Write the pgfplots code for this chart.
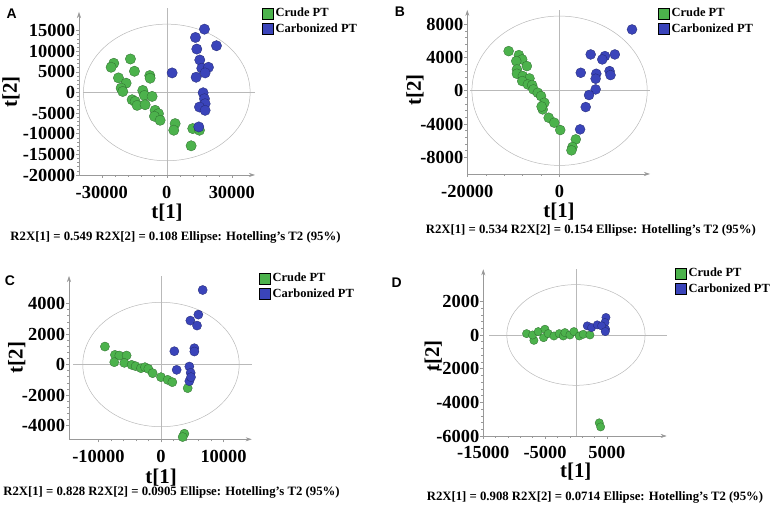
\documentclass[border=0pt]{standalone}
\usepackage{pgfplots}
\pgfplotsset{compat=1.18}
\usepackage{fontspec}
\setmainfont{Liberation Serif}
\newfontfamily\lsans{Liberation Sans}
\usetikzlibrary{arrows.meta}
\definecolor{gr}{RGB}{76,178,76}
\definecolor{bl}{RGB}{58,68,186}
\tikzset{refl/.style={draw=gray!55, line width=0.5bp}}
\pgfplotsset{
  pca/.style={
    scale only axis,
    axis lines=left,
    axis line style={draw=gray!80, line width=0.6bp, -{Stealth[length=6bp,width=4bp]}},
    tick style={draw=gray!80, line width=0.5bp},
    tick align=outside,
    major tick length=3bp,
    minor tick length=2bp,
    minor x tick num=4, minor y tick num=4,
    scaled ticks=false,
    /pgf/number format/1000 sep={},
    /pgf/number format/assume math mode=true,
    tick label style={font=\fontsize{18.5}{18.5}\selectfont\bfseries},
    yticklabel style={xshift=2.5bp},
    xticklabel style={yshift=-4.5bp},
    label style={font=\fontsize{21}{21}\selectfont\bfseries},
    xlabel={t[1]}, ylabel={t[2]},
    clip=false,
    legend cell align=left,
    legend style={draw=none, fill=none, font=\fontsize{12.5}{13}\selectfont\bfseries, anchor=north west, inner sep=0pt, row sep=1.5bp},
    legend image code/.code={\fill[##1] (0bp,-5.5bp) rectangle (11bp,5.5bp);},
  },
  gm/.style={only marks, mark=*, forget plot, mark options={fill=gr, draw=gr!60!black, line width=0.3bp}},
  bm/.style={only marks, mark=*, forget plot, mark options={fill=bl, draw=bl!60!black, line width=0.3bp}},
}
\begin{document}
\begin{tikzpicture}[x=1bp,y=1bp]
\useasboundingbox (0,0) rectangle (773,512);
% ---------------- A ----------------
\begin{axis}[pca, at={(79bp,337bp)}, anchor=south west, width=176bp, height=163bp,
  xmin=-40500, xmax=40700, ymin=-20000, ymax=19500,
  xtick={-30000,0,30000}, ytick={-20000,-15000,-10000,-5000,0,5000,10000,15000},
  xlabel style={at={(axis description cs:0.5,-0.232)}, anchor=center},
  ylabel style={at={(axis description cs:-0.386,0.509)}, anchor=center},
  legend style={at={(axis description cs:1.04,1.037)}}]
\draw[refl] (axis cs:0,-20000) -- (axis cs:0,20400);
\draw[refl] (axis cs:-38500,0) -- (axis cs:40700,0);
\draw[refl] (axis cs:0,0) ellipse [x radius=38450, y radius=16550];
\addlegendimage{fill=gr}\addlegendentry{Crude PT}
\addlegendimage{fill=bl}\addlegendentry{Carbonized PT}
\addplot[gm, mark size=5.2bp] table {
x y
-24454 7066
-25685 6103
-16764 8110
-14919 5139
-22301 3533
-18764 2248
-21071 1044
-20302 241
-7844 4095
-7690 3453
-11074 482
-10305 -723
-6767 -964
-15995 -1767
-14611 -2168
-13688 -3132
-9997 -2971
-5383 -4336
-3845 -5139
-5691 -5782
-3076 -6745
3845 -7548
3230 -9154
11996 -8753
15072 -9154
11227 -12928
};
\addplot[bm, mark size=5.2bp] table {
x y
17379 15337
13227 13330
22916 11322
13842 10519
15227 7869
2461 4738
16149 5862
19225 6103
17687 4738
13534 3694
16764 -80
17379 -1526
17687 -2730
15072 -3533
17687 -4336
14765 -8351
};
\end{axis}
% ---------------- B ----------------
\begin{axis}[pca, at={(467.3bp,338bp)}, anchor=south west, width=182.7bp, height=164bp,
  xmin=-20000, xmax=19600, ymin=-10000, ymax=9700,
  xtick={-20000,0}, ytick={-8000,-4000,0,4000,8000},
  xlabel style={at={(axis description cs:0.502,-0.227)}, anchor=center},
  ylabel style={at={(axis description cs:-0.286,0.512)}, anchor=center},
  legend style={at={(axis description cs:1.044,1.024)}}]
\draw[refl] (axis cs:0,-10000) -- (axis cs:0,9700);
\draw[refl] (axis cs:-19400,0) -- (axis cs:19600,0);
\draw[refl] (axis cs:0,0) ellipse [x radius=19000, y radius=8970];
\addlegendimage{fill=gr}\addlegendentry{Crude PT}
\addlegendimage{fill=bl}\addlegendentry{Carbonized PT}
\addplot[gm, mark size=5bp] table {
x y
-11042 4760
-8819 4280
-8102 3760
-9393 3560
-9249 2560
-7098 2960
-9249 2040
-7959 1760
-6525 1480
-8102 1160
-6883 760
-5951 680
-5664 160
-4732 -240
-4015 -640
-3298 -1440
-3657 -2240
-3900 -1900
-2366 -3240
-1147 -3840
143 -4720
3513 -5840
2796 -6760
2581 -7160
};
\addplot[bm, mark size=5bp] table {
x y
15702 7360
6740 4360
9823 4160
9249 3760
11974 4360
4589 2160
7959 2040
7815 1440
10827 2360
11042 1880
7815 160
6381 -520
5664 -1960
4445 -4640
};
\end{axis}
% ---------------- C ----------------
\begin{axis}[pca, at={(69bp,72.7bp)}, anchor=south west, width=182.7bp, height=163.3bp,
  xmin=-14700, xmax=14500, ymin=-4900, ymax=5800,
  xtick={-10000,0,10000}, ytick={-4000,-2000,0,2000,4000},
  xlabel style={at={(axis description cs:0.504,-0.232)}, anchor=center},
  ylabel style={at={(axis description cs:-0.286,0.5)}, anchor=center},
  legend style={at={(axis description cs:1.04,1.03)}}]
\draw[refl] (axis cs:0,-4900) -- (axis cs:0,5800);
\draw[refl] (axis cs:-14000,0) -- (axis cs:14500,0);
\draw[refl] (axis cs:0,0) ellipse [x radius=12500, y radius=4075];
\addlegendimage{fill=gr}\addlegendentry{Crude PT}
\addlegendimage{fill=bl}\addlegendentry{Carbonized PT}
\addplot[gm, mark size=4.6bp] table {
x y
-8960 1177
-7360 632
-6666 589
-5493 589
-7466 153
-5866 109
-4693 -22
-4053 -109
-3200 -240
-2560 -174
-2027 -283
-1333 -567
0 -828
1067 -1003
1813 -1155
4266 -1548
3733 -4534
3466 -4752
};
\addplot[bm, mark size=4.6bp] table {
x y
6666 4883
5973 3270
4693 2878
5760 2551
2133 872
5333 1068
5333 850
2507 -349
4533 -131
4746 -545
4533 -1090
4800 -828
};
\end{axis}
% ---------------- D ----------------
\begin{axis}[pca, at={(483.3bp,76bp)}, anchor=south west, width=183.4bp, height=166.7bp,
  xmin=-15000, xmax=14700, ymin=-6000, ymax=3900,
  xtick={-15000,-5000,5000}, ytick={-6000,-4000,-2000,0,2000},
  xticklabel style={yshift=1bp},
  xlabel style={at={(axis description cs:0.504,-0.212)}, anchor=center},
  ylabel style={at={(axis description cs:-0.273,0.48)}, anchor=center},
  legend style={at={(axis description cs:1.045,1.02)}}]
\draw[refl] (axis cs:0,-6000) -- (axis cs:0,3900);
\draw[refl] (axis cs:-14000,0) -- (axis cs:14700,0);
\draw[refl] (axis cs:0,0) ellipse [x radius=11200, y radius=2990];
\addlegendimage{fill=gr}\addlegendentry{Crude PT}
\addlegendimage{fill=bl}\addlegendentry{Carbonized PT}
\addplot[gm, mark size=4.2bp] table {
x y
-7992 80
-6804 -320
-7020 0
-6102 200
-5022 340
-5238 -160
-4482 80
-3564 -60
-2700 80
-2052 -60
-1782 140
-972 0
-324 200
540 -60
1188 40
2268 0
3780 -5220
3996 -5460
};
\addplot[bm, mark size=4.2bp] table {
x y
1836 540
2538 440
3456 600
4860 1040
4698 740
4806 340
4158 540
4752 200
};
\end{axis}
% ---------------- panel letters and notes ----------------
\node[font=\lsans\bfseries\fontsize{14}{14}\selectfont] at (11.7,498.7) {A};
\node[font=\lsans\bfseries\fontsize{14}{14}\selectfont] at (400,500.3) {B};
\node[font=\lsans\bfseries\fontsize{14}{14}\selectfont] at (10,231) {C};
\node[font=\lsans\bfseries\fontsize{14}{14}\selectfont] at (396.7,229.3) {D};
\node[font=\bfseries\fontsize{12.8}{13}\selectfont] at (175.5,275) {R2X[1] = 0.549 R2X[2] = 0.108 Ellipse: Hotelling's T2 (95\%)};
\node[font=\bfseries\fontsize{12.8}{13}\selectfont] at (590.8,282) {R2X[1] = 0.534 R2X[2] = 0.154 Ellipse: Hotelling's T2 (95\%)};
\node[font=\bfseries\fontsize{12.8}{13}\selectfont] at (171.5,19.3) {R2X[1] = 0.828 R2X[2] = 0.0905 Ellipse: Hotelling's T2 (95\%)};
\node[font=\bfseries\fontsize{12.8}{13}\selectfont] at (595,14.3) {R2X[1] = 0.908 R2X[2] = 0.0714 Ellipse: Hotelling's T2 (95\%)};
\end{tikzpicture}
\end{document}
